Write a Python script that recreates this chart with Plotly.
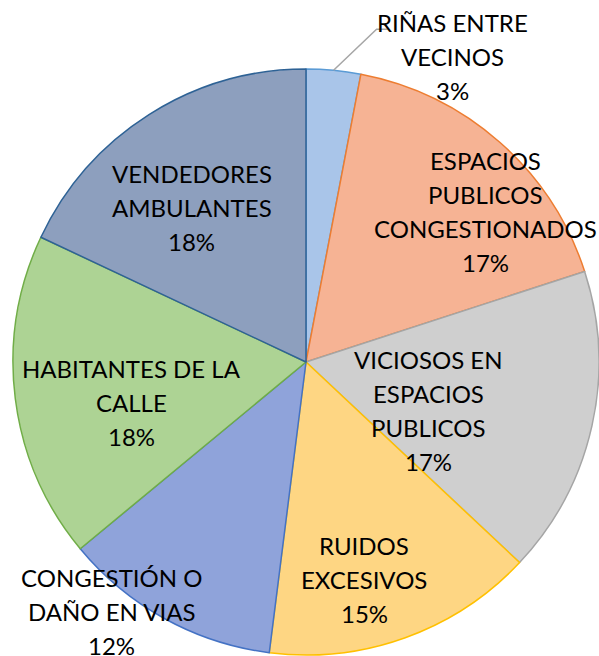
import math
import plotly.graph_objects as go

# ---- data ----
categories = [
    "RIÑAS ENTRE VECINOS",
    "ESPACIOS PUBLICOS CONGESTIONADOS",
    "VICIOSOS EN ESPACIOS PUBLICOS",
    "RUIDOS EXCESIVOS",
    "CONGESTIÓN O DAÑO EN VIAS",
    "HABITANTES DE LA CALLE",
    "VENDEDORES AMBULANTES",
]
values = [3, 17, 17, 15, 12, 18, 18]
label_lines = [
    ["RIÑAS ENTRE", "VECINOS"],
    ["ESPACIOS", "PUBLICOS", "CONGESTIONADOS"],
    ["VICIOSOS EN", "ESPACIOS", "PUBLICOS"],
    ["RUIDOS", "EXCESIVOS"],
    ["CONGESTIÓN O", "DAÑO EN VIAS"],
    ["HABITANTES DE LA", "CALLE"],
    ["VENDEDORES", "AMBULANTES"],
]

# ---- style ----
fill_colors = ["#a9c5e9", "#f6b394", "#cfcfcf", "#fed683", "#8fa3da", "#add394", "#8d9fbe"]
line_colors = ["#5b9bd5", "#ed7d31", "#a5a5a5", "#ffc000", "#4472c4", "#70ad47", "#2e6295"]
# label placement: (radius factor, angle offset from slice mid-angle in degrees)
label_place = [(1.156, 20.3), (0.80, 8.6), (0.45, 8.9), (0.77, 4.8),
               (1.08, 9.2), (0.61, -5.8), (0.655, -4.1)]

W, H = 599, 656
CX, CY, R = 306, 362, 293
LINE_H = 34
FONT = dict(family="Lato, 'Open Sans', sans-serif", size=24, color="#000000")

fig = go.Figure(go.Pie(
    labels=categories,
    values=values,
    sort=False,
    direction="clockwise",
    rotation=0,
    textinfo="none",
    marker=dict(colors=fill_colors, line=dict(color=line_colors, width=1.5)),
    domain=dict(x=[(CX - R) / W, (CX + R) / W], y=[1 - (CY + R) / H, 1 - (CY - R) / H]),
    showlegend=False,
))

total = sum(values)
annotations = []
cum = 0.0
mids = []
for i, v in enumerate(values):
    start = cum / total * 360
    cum += v
    end = cum / total * 360
    mid = (start + end) / 2
    mids.append(mid)
    rf, dang = label_place[i]
    a = math.radians(mid + dang)
    lx = CX + rf * R * math.sin(a)
    ly = CY - rf * R * math.cos(a)
    lines = label_lines[i] + [f"{round(v / total * 100)}%"]
    n = len(lines)
    for j, t in enumerate(lines):
        py = ly + (j - (n - 1) / 2) * LINE_H
        annotations.append(dict(
            x=lx / W, y=1 - py / H, xref="paper", yref="paper",
            text=t, showarrow=False, font=FONT,
            xanchor="center", yanchor="middle",
        ))

# leader line for the small first slice
a0 = math.radians(mids[0])
p0 = (CX + R * math.sin(a0), CY - R * math.cos(a0))
p1 = (p0[0] + 43, p0[1] - 41)
p2 = (p1[0] + 11, p1[1])
path = "M {} {} L {} {} L {} {}".format(
    p0[0] / W, 1 - p0[1] / H, p1[0] / W, 1 - p1[1] / H, p2[0] / W, 1 - p2[1] / H)
shapes = [dict(type="path", xref="paper", yref="paper", path=path,
               line=dict(color="#a6a6a6", width=1.5))]

fig.update_layout(
    width=W, height=H,
    margin=dict(l=0, r=0, t=0, b=0),
    paper_bgcolor="white", plot_bgcolor="white",
    annotations=annotations, shapes=shapes,
)
fig.write_html(
    "out.html",
    config={"displayModeBar": False},
    post_script="document.body.style.margin='0';document.body.style.padding='0';"
                "document.documentElement.style.overflow='hidden';",
)
